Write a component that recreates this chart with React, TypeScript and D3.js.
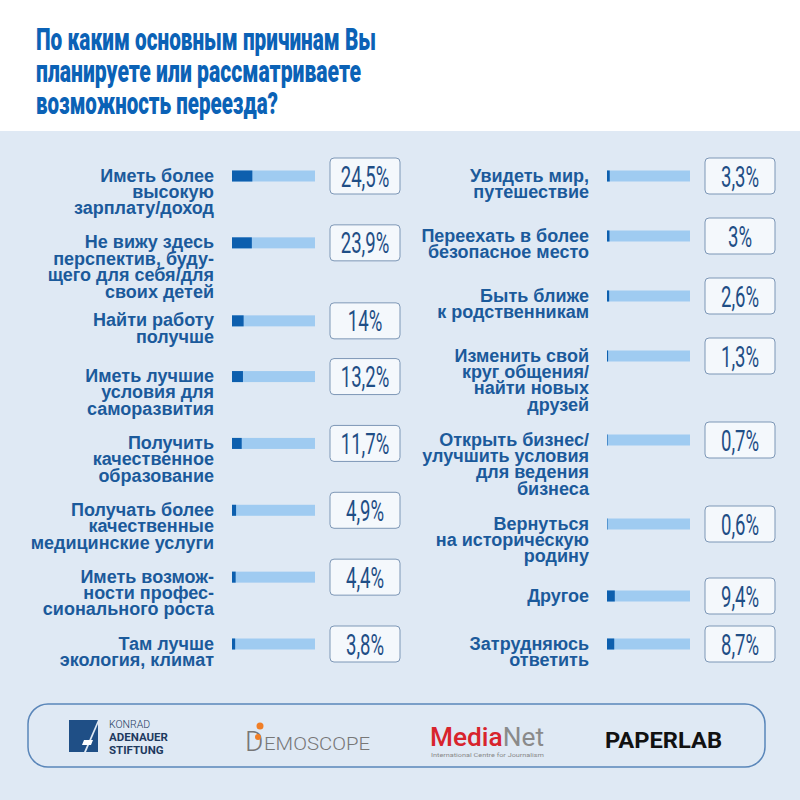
import React from 'react';
import * as d3 from 'd3';

const titleLines = [
  'По каким основным причинам Вы',
  'планируете или рассматриваете',
  'возможность переезда?',
];

const leftLabels: string[][] = [
  ['Иметь более', 'высокую', 'зарплату/доход'],
  ['Не вижу здесь', 'перспектив, буду-', 'щего для себя/для', 'своих детей'],
  ['Найти работу', 'получше'],
  ['Иметь лучшие', 'условия для', 'саморазвития'],
  ['Получить', 'качественное', 'образование'],
  ['Получать более', 'качественные', 'медицинские услуги'],
  ['Иметь возмож-', 'ности профес-', 'сионального роста'],
  ['Там лучше', 'экология, климат'],
];
const leftValues = [24.5, 23.9, 14, 13.2, 11.7, 4.9, 4.4, 3.8];

const rightLabels: string[][] = [
  ['Увидеть мир,', 'путешествие'],
  ['Переехать в более', 'безопасное место'],
  ['Быть ближе', 'к родственникам'],
  ['Изменить свой', 'круг общения/', 'найти новых', 'друзей'],
  ['Открыть бизнес/', 'улучшить условия', 'для ведения', 'бизнеса'],
  ['Вернуться', 'на историческую', 'родину'],
  ['Другое'],
  ['Затрудняюсь', 'ответить'],
];
const rightValues = [3.3, 3, 2.6, 1.3, 0.7, 0.6, 9.4, 8.7];

const BG = '#dfe9f4';
const TITLE = '#0b62b6';
const LABEL = '#1b5a9b';
const VALUE = '#1f4e86';
const TRACK = '#9fcbf1';
const FILL = '#0d5fae';
const BOX_FILL = '#f4f8fc';
const BOX_STROKE = '#7d97b6';

const fmt = (v: number) => String(v).replace('.', ',') + '%';

function Column(props: {
  labels: string[][];
  values: number[];
  labelX: number;
  barX0: number;
  barX1: number;
  boxX: number;
  gapUnits: number;
}) {
  const { labels, values, labelX, barX0, barX1, boxX, gapUnits } = props;
  const x = d3.scaleLinear().domain([0, 100]).range([barX0, barX1]);
  const units = labels.map((l) => l.length + gapUnits);
  const cum: number[] = [0];
  for (let i = 1; i < labels.length; i++) cum.push(cum[i - 1] + units[i - 1]);
  const y = d3.scaleLinear().domain([0, cum[cum.length - 1]]).range([176, 644]);
  const barH = 11;
  const boxW = 70;
  const boxH = 36;
  return (
    <g>
      {labels.map((lines, i) => {
        const cy = y(cum[i]);
        return (
          <g key={i}>
            <text
              x={labelX}
              y={cy + 5.5}
              textAnchor="end"
              fill={LABEL}
              fontFamily="'Liberation Sans', Arial, sans-serif"
              fontWeight={700}
              fontSize={18}
            >
              {lines.map((ln, j) => (
                <tspan key={j} x={labelX} dy={j === 0 ? 0 : 16.4}>
                  {ln}
                </tspan>
              ))}
            </text>
            <rect x={x(0)} y={cy - barH / 2} width={x(100) - x(0)} height={barH} fill={TRACK} />
            <rect x={x(0)} y={cy - barH / 2} width={x(values[i]) - x(0)} height={barH} fill={FILL} />
            <rect
              x={boxX}
              y={cy - boxH / 2}
              width={boxW}
              height={boxH}
              rx={4}
              fill={BOX_FILL}
              stroke={BOX_STROKE}
              strokeWidth={1}
            />
            <text
              transform={`translate(${boxX + boxW / 2},${cy + 10.5}) scale(0.64,1)`}
              textAnchor="middle"
              fill={VALUE}
              fontFamily="Roboto, sans-serif"
              fontWeight={400}
              fontSize={29}
            >
              {fmt(values[i])}
            </text>
          </g>
        );
      })}
    </g>
  );
}

function Logos() {
  return (
    <g>
      <rect x={28} y={704} width={737} height={63} rx={20} fill="none" stroke="#5a86b9" strokeWidth={1.5} />
      {/* Konrad Adenauer Stiftung */}
      <g>
        <path d="M69,720 L98,720 L84,752 L69,752 Z" fill="#1f4f86" />
        <path d="M86,752 L98,724 L98,752 Z" fill="#1f4f86" />
        <path d="M84,740 L93,740 L91,745 L82,745 Z" fill="#ffffff" />
        <text x={109} y={728} fill="#1e3a5f" fontFamily="Roboto, sans-serif" fontWeight={300} fontSize={10.5}>KONRAD</text>
        <text x={109} y={741} fill="#1e3a5f" fontFamily="Roboto, sans-serif" fontWeight={700} fontSize={11.5}>ADENAUER</text>
        <text x={109} y={754} fill="#1e3a5f" fontFamily="Roboto, sans-serif" fontWeight={700} fontSize={11.5}>STIFTUNG</text>
      </g>
      {/* Demoscope */}
      <g>
        <text x={245} y={751} fill="#777" fontFamily="Roboto, sans-serif" fontWeight={300} fontSize={28}>D</text>
        <circle cx={260} cy={726} r={3.5} fill="#f07e26" />
        <circle cx={258} cy={737} r={3} fill="#f07e26" />
        <text x={264} y={750} fill="#777" fontFamily="Roboto, sans-serif" fontWeight={300} fontSize={19} textLength={106} lengthAdjust="spacingAndGlyphs">EMOSCOPE</text>
      </g>
      {/* MediaNet */}
      <g>
        <text x={430} y={746} fontFamily="Roboto, sans-serif" fontSize={25} fontWeight={500} textLength={114} lengthAdjust="spacingAndGlyphs">
          <tspan fill="#d8242c">Media</tspan>
          <tspan fill="#8a8a8a" fontWeight={400}>Net</tspan>
        </text>
        <text x={431} y={757} fill="#8a8a8a" fontFamily="Roboto, sans-serif" fontSize={6} textLength={113} lengthAdjust="spacingAndGlyphs">International Centre for Journalism</text>
      </g>
      {/* PaperLab */}
      <text x={605} y={748} fill="#111" fontFamily="Roboto, sans-serif" fontWeight={700} fontSize={22} textLength={117} lengthAdjust="spacingAndGlyphs">PAPERLAB</text>
    </g>
  );
}

export default function App() {
  const titleWidths = [340, 325, 242];
  return (
    <svg
      width={800}
      height={800}
      viewBox="0 0 800 800"
      style={{ position: 'absolute', left: 0, top: 0 }}
    >
      <rect x={0} y={0} width={800} height={800} fill={BG} />
      <rect x={0} y={0} width={800} height={131} fill="#ffffff" />
      {titleLines.map((t, i) => (
        <text
          key={i}
          x={36}
          y={50 + i * 32}
          fill={TITLE}
          fontFamily="Roboto, sans-serif"
          fontWeight={900}
          fontSize={31}
          textLength={titleWidths[i]}
          lengthAdjust="spacingAndGlyphs"
        >
          {t}
        </text>
      ))}
      <Column labels={leftLabels} values={leftValues} labelX={214} barX0={232} barX1={315} boxX={330} gapUnits={3} />
      <Column labels={rightLabels} values={rightValues} labelX={589} barX0={607} barX1={690} boxX={705} gapUnits={3} />
      <Logos />
    </svg>
  );
}
